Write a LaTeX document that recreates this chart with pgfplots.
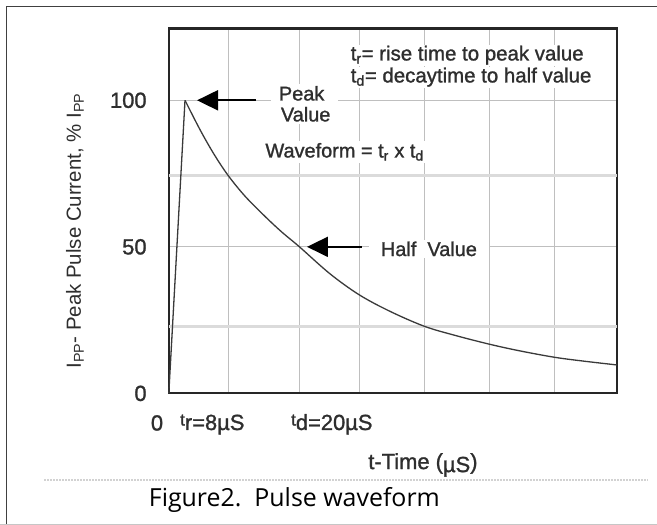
\documentclass[border=0pt]{standalone}
\usepackage{pgfplots}
\pgfplotsset{compat=1.18}
\usepackage{fontspec}
\setmainfont{Liberation Sans}
\newfontfamily\semib[FakeBold=1.2]{Liberation Sans}
\newfontfamily\capfont{Open Sans}
\usetikzlibrary{arrows.meta}
\definecolor{txt}{HTML}{2E2E2E}
\definecolor{curve}{HTML}{3A3A3A}
\newcommand{\fs}{\semib\fontsize{20}{24}\selectfont}
\newcommand{\ft}{\semib\fontsize{22}{26}\selectfont}
\begin{document}
\begin{tikzpicture}[x=1bp,y=1bp]
\useasboundingbox (0,0) rectangle (657,525);
\fill[white] (0,0) rectangle (657,525);
% frame
\draw[line width=1.5bp, black!75] (6.5,0) -- (6.5,518.5) -- (657,518.5);
\draw[line width=1.2bp, gray!45] (0,0.8) -- (657,0.8);
\draw[line width=1.1bp, gray!35, dash pattern=on 2bp off 1bp] (44,45) -- (648,45);
\node[anchor=base west, inner sep=0pt, text=black] at (148.7,18) {\capfont\fontsize{25}{29}\selectfont Figure2.\ \ Pulse waveform};
\begin{axis}[
  at={(168.8bp,131.6bp)}, anchor=south west,
  scale only axis, width=448.2bp, height=364.9bp,
  xmin=0, xmax=68.6, ymin=0, ymax=124.5,
  clip=false,
  axis line style={line width=2.2bp, black!85},
  xtick={9.1,20,29.2,39.1,49,59.1}, xticklabels={},
  ytick={0,50,100}, yticklabels={0,50,100},
  extra y ticks={22.9,74.3}, extra y tick labels={},
  extra y tick style={grid style={line width=2.6bp, gray!28}},
  major tick length=0pt,
  xmajorgrids, ymajorgrids,
  grid style={line width=0.9bp, gray!50},
  /pgf/number format/assume math mode=true,
  yticklabel style={font=\ft, text=txt, inner sep=0pt, anchor=east, xshift=-22bp},
  ylabel={I\textsubscript{PP}- Peak Pulse Current, \% I\textsubscript{PP}},
  ylabel style={font=\fontsize{20.5}{24}\selectfont, text=txt, at={(axis description cs:-0.2093,0.445)}, anchor=center},
  xlabel={t-Time (\raisebox{-3bp}{µS})},
  xlabel style={font=\ft, text=txt, at={(axis description cs:0.567,-0.196)}, anchor=center},
]
\addplot[curve, line width=1.3bp] coordinates {(0,0) (2.48,100)};
\addplot[curve, line width=1.3bp, smooth, tension=0.55] coordinates {
(2.48,100) (4.77,90.0) (6.92,81.6) (9.1,74.3) (11.66,67.3) (14.72,60.4) (17.32,55.0) (20,50)
(24.67,40.8) (29.17,33.6) (33.85,28.0) (39.11,22.9) (43.8,19.8) (49.04,16.8) (53.74,14.5)
(59.1,12.3) (63.68,10.96) (68.6,9.7)};
% annotations
\node[anchor=west, fill=white, inner xsep=6bp, inner ysep=1bp, font=\fontsize{20.5}{24}\semib\selectfont, text=txt] at (axis cs:26.9,115.4) {t\textsubscript{r}= rise time to peak value};
\node[anchor=west, fill=white, inner xsep=6bp, inner ysep=1bp, font=\fontsize{20.5}{24}\semib\selectfont, text=txt] at (axis cs:26.9,107.9) {t\textsubscript{d}= decaytime to half value};
\node[anchor=west, fill=white, inner xsep=8bp, inner ysep=2bp, font=\fs, text=txt, align=left] at (axis cs:15.6,98.8) {Peak\\[-3bp]\hspace*{2bp}Value};
\node[anchor=west, fill=white, inner xsep=3bp, inner ysep=2bp, font=\fs, text=txt] at (axis cs:14.3,82.4) {Waveform = t\textsubscript{r} x t\textsubscript{d}};
\node[anchor=west, fill=white, inner xsep=12bp, inner ysep=2bp, font=\fs, text=txt] at (axis cs:30.6,49.3) {Half\ \ Value};
\draw[black, line width=2bp, -{Triangle[length=21bp,width=20bp]}] (axis cs:13.34,100) -- (axis cs:4.32,100);
\draw[black, line width=2bp, -{Triangle[length=21bp,width=20bp]}] (axis cs:29.56,50) -- (axis cs:21.15,50);
% x tick labels
\node[anchor=base, inner sep=0pt, font=\ft, text=txt] at (axis description cs:-0.0263,-0.1017) {0};
\node[anchor=base west, inner sep=0pt, font=\ft, text=txt] at (axis description cs:0.025,-0.1003) {\raisebox{4.5bp}{\fontsize{17}{17}\selectfont t}r=8µS};
\node[anchor=base west, inner sep=0pt, font=\ft, text=txt] at (axis description cs:0.2726,-0.1003) {\raisebox{4.5bp}{\fontsize{17}{17}\selectfont t}d=20µS};
\end{axis}
\end{tikzpicture}
\end{document}
